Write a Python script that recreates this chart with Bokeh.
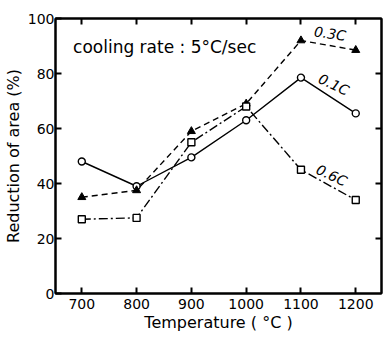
from bokeh.plotting import figure
from bokeh.models import LinearAxis, FixedTicker, Label, Range1d
from bokeh.embed import file_html
from bokeh.resources import INLINE

temps = [700, 800, 900, 1000, 1100, 1200]
c01 = [48, 39, 49.5, 63, 78.5, 65.5]
c03 = [35, 37.5, 59, 69, 92, 88.5]
c06 = [27, 27.5, 55, 68, 45, 34]
y_ticks = [0, 20, 40, 60, 80, 100]
right_ticks = [20, 40, 60, 80]

FONT = "DejaVu Sans"

p = figure(frame_width=326, frame_height=275, x_range=Range1d(652, 1247), y_range=Range1d(0, 100),
           output_backend="svg", toolbar_location=None,
           min_border_left=46, min_border_right=2, min_border_top=18, min_border_bottom=38)
p.xgrid.visible = False
p.ygrid.visible = False
p.outline_line_color = "black"
p.outline_line_width = 2
p.background_fill_color = "white"
p.border_fill_color = "white"

def style_axis(ax, ticks, show_labels=True):
    ax.ticker = FixedTicker(ticks=ticks)
    ax.major_tick_in = 6
    ax.major_tick_out = 0
    ax.minor_tick_in = 0
    ax.minor_tick_out = 0
    ax.axis_line_color = "black"
    ax.axis_line_width = 2
    ax.major_tick_line_color = "black"
    ax.major_tick_line_width = 2
    ax.major_label_text_font = FONT
    ax.major_label_text_color = "black"
    ax.major_label_text_font_size = "14px"
    if not show_labels:
        ax.major_label_overrides = {t: "" for t in ticks}
        ax.major_label_standoff = 0

xa = p.xaxis[0]
style_axis(xa, temps)
xa.major_label_standoff = 5
xa.axis_label = "Temperature ( °C )"
xa.axis_label_text_font = FONT
xa.axis_label_text_font_style = "normal"
xa.axis_label_text_font_size = "16px"
xa.axis_label_standoff = 1
xa.axis_label_text_color = "black"

ya = p.yaxis[0]
style_axis(ya, y_ticks)
ya.major_label_standoff = 1
ya.axis_label = "Reduction of area (%)"
ya.axis_label_text_font = FONT
ya.axis_label_text_font_style = "normal"
ya.axis_label_text_font_size = "16px"
ya.axis_label_standoff = 2
ya.axis_label_text_color = "black"

top = LinearAxis()
style_axis(top, temps, show_labels=False)
p.add_layout(top, "above")
right = LinearAxis()
style_axis(right, right_ticks, show_labels=False)
p.add_layout(right, "right")

# series
p.line(temps, c01, line_color="black", line_width=1.4)
p.scatter(temps, c01, marker="circle", size=7, fill_color="white", line_color="black", line_width=1.4)

p.line(temps, c03, line_color="black", line_width=1.4, line_dash="6 4")
p.scatter(temps, c03, marker="triangle", size=8, fill_color="black", line_color="black")

p.line(temps, c06, line_color="black", line_width=1.4, line_dash="9 3 2 3")
p.scatter(temps, c06, marker="square", size=7, fill_color="white", line_color="black", line_width=1.4)

def add_label(x, y, text, angle=0.0, italic=False, size="14px"):
    p.add_layout(Label(x=x, y=y, text=text, angle=angle, text_font=FONT,
                       text_font_size=size, text_color="black",
                       text_font_style="italic" if italic else "normal",
                       text_align="center" if italic else "left",
                       text_baseline="middle"))

add_label(684, 89.5, "cooling  rate : 5°C/sec", size="17px")
add_label(1153, 94.5, "0.3C", angle=-0.14, italic=True)
add_label(1160, 76, "0.1C", angle=-0.44, italic=True)
add_label(1156, 43, "0.6C", angle=-0.44, italic=True)

open("out.html", "w").write(file_html(p, INLINE))
